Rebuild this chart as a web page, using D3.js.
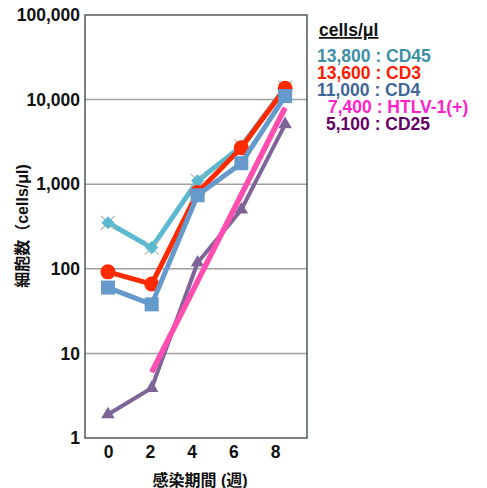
<!DOCTYPE html>
<html>
<head>
<meta charset="utf-8">
<script src="https://cdn.jsdelivr.net/npm/d3@7"></script>
<style>
  body { margin: 0; background: #fff; }
  text { font-family: "Liberation Sans", Arial, "Noto Sans CJK JP", sans-serif; font-weight: bold; }
</style>
</head>
<body>
<svg id="svg1" width="487" height="488"></svg>
<script>
// weeks (marker positions)
var weeks = [0, 2.1, 4.3, 6.4, 8.5];
var xTicks = [0, 2, 4, 6, 8];
var yTicks = [1, 10, 100, 1000, 10000, 100000];

var cd45 = [350, 178, 1100, 2800, 13800];
var cd3 = [92, 66, 800, 2700, 13600];
var cd4 = [60, 38, 740, 1770, 11000];
var cd25 = [1.9, 3.9, 118, 500, 5100];
// HTLV-1(+) fitted line, start and end only
var htlvWeeks = [2.1, 8.5];
var htlv = [6, 8000];

var legendLabels = ['13,800 : CD45', '13,600 : CD3', '11,000 : CD4', '7,400 : HTLV-1(+)', '5,100 : CD25'];
var legendColors = ['#3d8fa5', '#ff1a00', '#3f6699', '#ff22cc', '#660066'];
var legendIndent = [317, 317, 317, 328, 326];

var svg = d3.select('svg');

var plotLeft = 85, plotRight = 307, plotTop = 15, plotBottom = 438;

var x = d3.scaleLinear().domain([-1.1, 9.55]).range([plotLeft, plotRight]);
var y = d3.scaleLog().domain([1, 100000]).range([plotBottom, plotTop]);

// grid lines
svg.append('g')
    .selectAll('line')
    .data(yTicks.slice(1, 5))
    .enter()
    .append('line')
    .attr('x1', plotLeft).attr('x2', plotRight)
    .attr('y1', function(d){ return y(d); })
    .attr('y2', function(d){ return y(d); })
    .attr('stroke', '#a0a0a0')
    .attr('stroke-width', 1.5);

// frame
svg.append('rect')
    .attr('x', plotLeft).attr('y', plotTop)
    .attr('width', plotRight - plotLeft).attr('height', plotBottom - plotTop)
    .attr('fill', 'none')
    .attr('stroke', '#4d5a52')
    .attr('stroke-width', 1.5);

// y axis labels
var yAxis = d3.axisLeft(y)
    .tickValues(yTicks)
    .tickFormat(d3.format(','))
    .tickSize(0)
    .tickPadding(5);
svg.append('g')
    .attr('transform', 'translate(' + plotLeft + ',0)')
    .call(yAxis)
    .call(function(g){ g.select('.domain').remove(); })
    .selectAll('text')
    .attr('font-size', 17.5)
    .attr('font-family', '"Liberation Sans", Arial, sans-serif')
    .attr('font-weight', 'bold')
    .attr('fill', '#111');

// x axis labels (slightly compressed compared with the markers, as in the picture)
var xl = d3.scaleLinear().domain([0, 8]).range([108, 275]);
var xAxis = d3.axisBottom(xl)
    .tickValues(xTicks)
    .tickSize(0)
    .tickPadding(8);
svg.append('g')
    .attr('transform', 'translate(0,' + plotBottom + ')')
    .call(xAxis)
    .call(function(g){ g.select('.domain').remove(); })
    .selectAll('text')
    .attr('font-size', 17.5)
    .attr('font-family', '"Liberation Sans", Arial, sans-serif')
    .attr('font-weight', 'bold')
    .attr('fill', '#111');

// axis titles
svg.append('text')
    .attr('x', 200).attr('y', 486)
    .attr('text-anchor', 'middle')
    .attr('font-size', 16)
    .attr('fill', '#111')
    .text('感染期間 (週)');

svg.append('text')
    .attr('transform', 'translate(28,226) rotate(-90)')
    .attr('text-anchor', 'middle')
    .attr('font-size', 16)
    .attr('fill', '#111')
    .text('細胞数（cells/μl)');

var line = d3.line()
    .x(function(d){ return x(d[0]); })
    .y(function(d){ return y(d[1]); });

function series(vals, color, w) {
    var pts = weeks.map(function(wk, i){ return [wk, vals[i]]; });
    svg.append('path')
        .datum(pts)
        .attr('d', line)
        .attr('fill', 'none')
        .attr('stroke', color)
        .attr('stroke-width', w)
        .attr('stroke-linejoin', 'round');
    return pts;
}

// CD45 - diamonds with grey crosses
var p45 = series(cd45, '#5bb9cf', 5);
svg.append('g').selectAll('g')
    .data(p45).enter().append('g')
    .attr('transform', function(d){ return 'translate(' + x(d[0]) + ',' + y(d[1]) + ')'; })
    .each(function(){
        var g = d3.select(this);
        g.append('path').attr('d', 'M-7,-7L7,7M-7,7L7,-7').attr('stroke', '#b8b8b8').attr('stroke-width', 1.2);
        g.append('path').attr('d', d3.symbol(d3.symbolDiamond2, 110)()).attr('fill', '#5bb9cf');
    });

// CD25 - triangles
var p25 = series(cd25, '#7d6598', 4);
svg.append('g').selectAll('path')
    .data(p25).enter().append('path')
    .attr('transform', function(d){ return 'translate(' + x(d[0]) + ',' + y(d[1]) + ')'; })
    .attr('d', d3.symbol(d3.symbolTriangle2, 130)())
    .attr('fill', '#7d6598');

// CD3 - circles
var p3 = series(cd3, '#ff2a00', 5);
svg.append('g').selectAll('circle')
    .data(p3).enter().append('circle')
    .attr('cx', function(d){ return x(d[0]); })
    .attr('cy', function(d){ return y(d[1]); })
    .attr('r', 7.5)
    .attr('fill', '#ff2a00');

// CD4 - squares
var p4 = series(cd4, '#6699cc', 5);
svg.append('g').selectAll('rect')
    .data(p4).enter().append('rect')
    .attr('x', function(d){ return x(d[0]) - 7; })
    .attr('y', function(d){ return y(d[1]) - 7; })
    .attr('width', 14).attr('height', 14)
    .attr('fill', '#6699cc');

// HTLV-1(+) fitted line
svg.append('path')
    .datum(htlvWeeks.map(function(wk, i){ return [wk, htlv[i]]; }))
    .attr('d', line)
    .attr('fill', 'none')
    .attr('stroke', '#ff4db0')
    .attr('stroke-width', 5.5);

// legend
svg.append('text')
    .attr('x', 319).attr('y', 36)
    .attr('font-size', 17.5)
    .attr('fill', '#111')
    .attr('text-decoration', 'underline')
    .text('cells/μl');

svg.append('g').selectAll('text')
    .data(legendLabels).enter().append('text')
    .attr('x', function(d, i){ return legendIndent[i]; })
    .attr('y', function(d, i){ return 62 + i * 17; })
    .attr('font-size', 17.5)
    .attr('fill', function(d, i){ return legendColors[i]; })
    .text(function(d){ return d; });
</script>
</body>
</html>
